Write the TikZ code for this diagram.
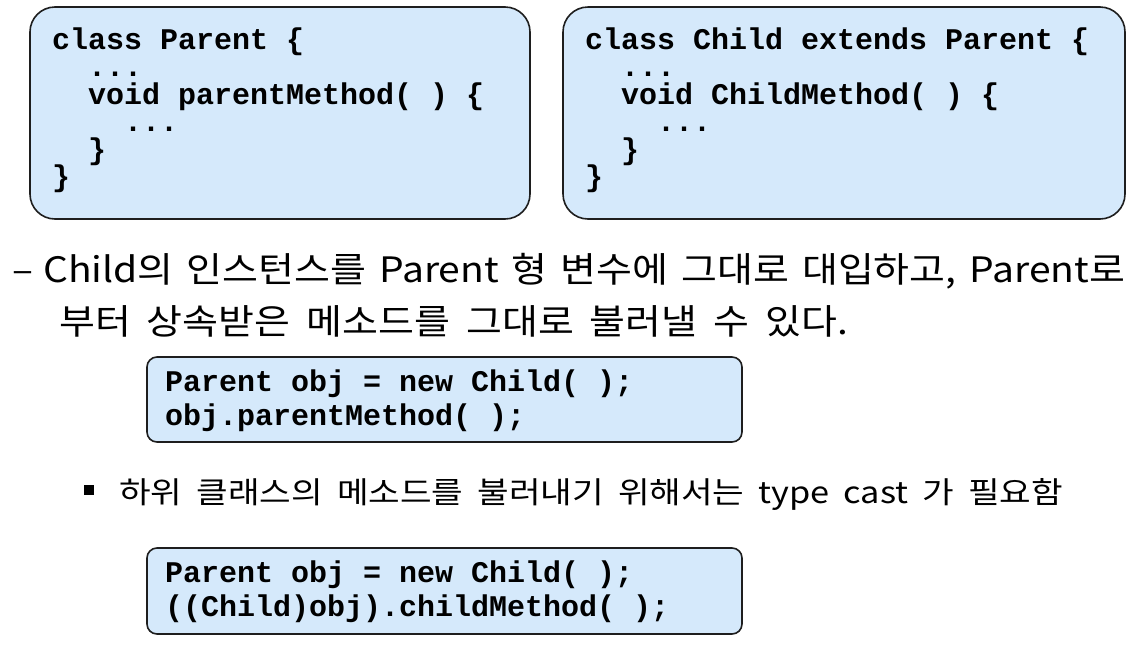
\documentclass[tikz,border=0pt]{standalone}
\usepackage{fontspec}
\setmonofont{Liberation Mono}
\newfontfamily\kr[FakeStretch=1.115]{Noto Sans CJK KR}
\newfontfamily\krsub[FakeStretch=1.145]{Noto Sans CJK KR}
\definecolor{boxblue}{RGB}{213,233,251}
\definecolor{boxline}{RGB}{30,30,30}
\begin{document}
\begin{tikzpicture}[x=1pt,y=-1pt,
  codebox/.style={draw=boxline, line width=1.6pt, fill=boxblue, inner sep=0pt},
  code/.style={font=\fontsize{30}{28}\selectfont\ttfamily\bfseries, anchor=base west, inner sep=0pt},
  maintext/.style={font=\fontsize{35}{40}\selectfont\kr, anchor=base west, inner sep=0pt},
  subtext/.style={font=\fontsize{30}{34}\selectfont\krsub, anchor=base west, inner sep=0pt}]
\useasboundingbox (0,0) rectangle (1138,646);
% code boxes
\node[codebox, rounded corners=25pt, minimum width=500pt, minimum height=212pt] (pbox) at (280,113) {};
\node[codebox, rounded corners=25pt, minimum width=562pt, minimum height=212pt] (cbox) at (844,113) {};
\node[codebox, rounded corners=10pt, minimum width=595pt, minimum height=85pt] (ubox) at (444.5,399.5) {};
\node[codebox, rounded corners=10pt, minimum width=595pt, minimum height=86pt] (tbox) at (444.5,591) {};
% Parent class
\node[code] (p1) at (52,49) {class Parent \{};
\node[code] (p2) at (88,76.5) {...};
\node[code] (p3) at (88,104) {void parentMethod( ) \{};
\node[code] (p4) at (124,131.5) {...};
\node[code] (p5) at (88,159) {\}};
\node[code] (p6) at (52,186.5) {\}};
% Child class
\node[code] (c1) at (585,49) {class Child extends Parent \{};
\node[code] (c2) at (621,76.5) {...};
\node[code] (c3) at (621,104) {void ChildMethod( ) \{};
\node[code] (c4) at (657,131.5) {...};
\node[code] (c5) at (621,159) {\}};
\node[code] (c6) at (585,186.5) {\}};
% main text
\node[maintext] (dash) at (12,282) {–};
\node[maintext] (line1) at (43,282) {\hbox to 1082pt{Child의\hfill 인스턴스를\hfill Parent\hfill 형\hfill 변수에\hfill 그대로\hfill 대입하고,\hfill Parent로}};
\node[maintext] (line2) at (59,334) {\hbox to 789pt{부터\hfill 상속받은\hfill 메소드를\hfill 그대로\hfill 불러낼\hfill 수\hfill 있다.}};
% upcast code
\node[code] (u1) at (165,391) {Parent obj = new Child( );};
\node[code] (u2) at (165,425) {obj.parentMethod( );};
% bullet
\node[fill=black, minimum size=10pt, inner sep=0pt] (bullet) at (89,490) {};
\node[subtext] (line3) at (119,503) {\hbox to 944pt{하위\hfill 클래스의\hfill 메소드를\hfill 불러내기\hfill 위해서는\hfill type\hfill cast\hfill 가\hfill 필요함}};
% type cast code
\node[code] (t1) at (165,582) {Parent obj = new Child( );};
\node[code] (t2) at (165,616) {((Child)obj).childMethod( );};
\end{tikzpicture}
\end{document}
